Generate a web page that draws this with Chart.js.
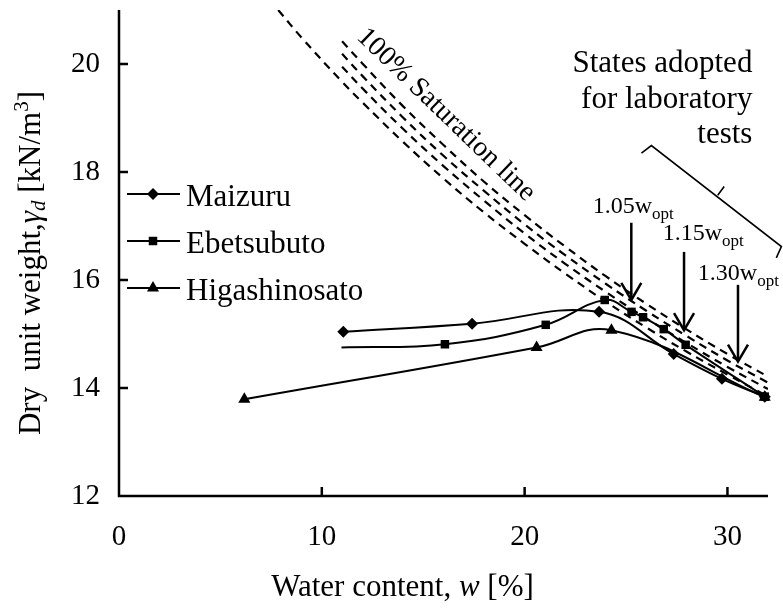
<!DOCTYPE html>
<html><head><meta charset="utf-8">
<script src="https://cdn.jsdelivr.net/npm/chart.js@4.4.1/dist/chart.umd.min.js"></script>
<style>html,body{margin:0;padding:0;background:#fff}#wrap{width:783px;height:608px}</style>
</head><body><div id="wrap"><canvas id="c" width="783" height="608"></canvas></div>
<script>
// ---- data ----
const xTickValues = [0, 10, 20, 30];
const yTickValues = [12, 14, 16, 18, 20];
const seriesNames = ['Maizuru', 'Ebetsubuto', 'Higashinosato'];

const maizuruW = [11.06, 17.41, 23.67, 27.35, 29.73, 31.84];
const maizuruG = [15.04, 15.19, 15.41, 14.63, 14.17, 13.84];

const ebetsuW = [10.97, 16.07, 21.04, 23.95, 25.27, 25.84, 26.86, 27.94, 31.84];
const ebetsuG = [14.75, 14.81, 15.17, 15.63, 15.41, 15.31, 15.09, 14.80, 13.84];

const higashiW = [6.18, 20.59, 24.28, 31.84];
const higashiG = [13.79, 14.75, 15.07, 13.83];

const satW_A = [7.85, 9, 11, 12, 14, 16, 18, 20, 22, 24, 26, 28, 30, 32];
const satA = [21.00, 20.49, 19.67, 19.29, 18.56, 17.88, 17.25, 16.67, 16.12, 15.60, 15.12, 14.67, 14.25, 13.84];
const satW = [11, 12, 14, 16, 18, 20, 22, 24, 26, 28, 30, 32];
const satB = [19.95, 19.55, 18.80, 18.11, 17.47, 16.86, 16.30, 15.78, 15.29, 14.83, 14.39, 13.98];
const satC = [20.19, 19.78, 19.01, 18.30, 17.65, 17.03, 16.46, 15.93, 15.43, 14.96, 14.51, 14.10];
const satD = [20.42, 20.01, 19.22, 18.50, 17.82, 17.20, 16.62, 16.07, 15.56, 15.08, 14.63, 14.21];

const ratioLabels = ['1.05', '1.15', '1.30'];

// ---- build ----
const FF = '"Liberation Serif", "Times New Roman", serif';
const zip = (xs, ys) => xs.map((x, i) => ({x, y: ys[i]}));

function dataSet(label, xs, ys, style, radius, radii) {
  return {
    label, data: zip(xs, ys), borderColor: '#000', backgroundColor: '#000',
    borderWidth: 2, pointStyle: style, pointRadius: radii || radius, pointHoverRadius: radius,
    pointBorderWidth: 0, tension: 0.4, clip: 10
  };
}
function satSet(xs, ys) {
  return {
    label: 'sat', data: zip(xs, ys), borderColor: '#000', borderWidth: 2.2,
    borderDash: [8, 6], pointRadius: 0, tension: 0.4, fill: false
  };
}

const ds = [
  dataSet(seriesNames[2], higashiW, higashiG, 'triangle', 7),
  dataSet(seriesNames[1], ebetsuW, ebetsuG, 'rect', 6, ebetsuW.map((v, i) => i === 0 ? 0 : 6)),
  dataSet(seriesNames[0], maizuruW, maizuruG, 'rectRot', 6),
  satSet(satW_A, satA), satSet(satW, satB), satSet(satW, satC), satSet(satW, satD)
];

function drawRich(ctx, parts, x, y, align) {
  let total = 0;
  parts.forEach(p => { ctx.font = `${p.st || ''} ${p.s}px ${FF}`; p.w = ctx.measureText(p.t).width; total += p.w; });
  let cx = align === 'center' ? x - total / 2 : align === 'right' ? x - total : x;
  ctx.textAlign = 'left'; ctx.textBaseline = 'alphabetic'; ctx.fillStyle = '#000';
  parts.forEach(p => { ctx.font = `${p.st || ''} ${p.s}px ${FF}`; ctx.fillText(p.t, cx, y + (p.dy || 0)); cx += p.w; });
}

const decor = {
  id: 'decor',
  afterDraw(chart) {
    const ctx = chart.ctx, xs = chart.scales.x, ys = chart.scales.y, a = chart.chartArea;
    const X = v => xs.getPixelForValue(v), Y = v => ys.getPixelForValue(v);
    ctx.save();
    ctx.strokeStyle = '#000'; ctx.fillStyle = '#000'; ctx.lineCap = 'butt';
    // axes
    ctx.lineWidth = 2.5;
    ctx.beginPath();
    ctx.moveTo(a.left, a.top); ctx.lineTo(a.left, a.bottom); ctx.lineTo(a.right, a.bottom);
    ctx.stroke();
    ctx.beginPath();
    xTickValues.forEach(v => { if (v > xs.min) { ctx.moveTo(X(v), a.bottom); ctx.lineTo(X(v), a.bottom - 9); } });
    yTickValues.forEach(v => { if (v > ys.min) { ctx.moveTo(a.left, Y(v)); ctx.lineTo(a.left + 9, Y(v)); } });
    ctx.stroke();

    // legend
    const styles = ['rectRot', 'rect', 'triangle'], radii = [6, 6, 7];
    seriesNames.forEach((n, i) => {
      const ly = a.top + 184 + 47 * i;
      ctx.lineWidth = 2;
      ctx.beginPath(); ctx.moveTo(a.left + 8, ly); ctx.lineTo(a.left + 61, ly); ctx.stroke();
      Chart.helpers.drawPoint(ctx, {pointStyle: styles[i], radius: radii[i], rotation: 0, borderWidth: 0}, a.left + 34, ly);
      drawRich(ctx, [{t: n, s: 31}], a.left + 67, ly + 12, 'left');
    });

    // saturation label
    ctx.save();
    ctx.translate(X(16.12), Y(19.06));
    ctx.rotate(44 * Math.PI / 180);
    ctx.font = `28px ${FF}`; ctx.textAlign = 'center'; ctx.textBaseline = 'middle';
    ctx.fillText('100% Saturation line', 0, 0);
    ctx.restore();

    // arrows
    const arrows = [[25.26, 17.06, 15.63], [27.86, 16.52, 15.07], [30.52, 15.91, 14.49]];
    ctx.lineWidth = 2.5;
    arrows.forEach(([w, g1, g2]) => {
      const x = X(w), y1 = Y(g1), y2 = Y(g2);
      ctx.beginPath(); ctx.moveTo(x, y1); ctx.lineTo(x, y2 - 1); ctx.stroke();
      ctx.beginPath(); ctx.moveTo(x - 10, y2 - 17); ctx.lineTo(x, y2); ctx.lineTo(x + 10, y2 - 17); ctx.stroke();
    });
    const lbl = [[23.36, 17.24], [26.81, 16.74], [28.54, 16.0]];
    lbl.forEach(([w, g], i) => {
      drawRich(ctx, [{t: ratioLabels[i] + 'w', s: 24}, {t: 'opt', s: 17, dy: 6}], X(w), Y(g), 'left');
    });

    // bracket
    ctx.lineWidth = 1.6;
    ctx.beginPath();
    ctx.moveTo(X(25.76), Y(18.35)); ctx.lineTo(X(26.25), Y(18.49));
    ctx.lineTo(X(32.66), Y(16.62)); ctx.lineTo(X(32.41), Y(16.41));
    ctx.moveTo(X(29.52), Y(17.57)); ctx.lineTo(X(29.84), Y(17.73));
    ctx.stroke();
    drawRich(ctx, [{t: 'States adopted', s: 31}], X(31.23), Y(19.86), 'right');
    drawRich(ctx, [{t: 'for laboratory', s: 31}], X(31.23), Y(19.19), 'right');
    drawRich(ctx, [{t: 'tests', s: 31}], X(31.23), Y(18.54), 'right');

    // axis titles
    drawRich(ctx, [{t: 'Water content, ', s: 31}, {t: 'w', s: 31, st: 'italic'}, {t: ' [%]', s: 31}], 402.5, 596, 'center');
    ctx.save();
    ctx.translate(40, 263); ctx.rotate(-Math.PI / 2);
    drawRich(ctx, [{t: 'Dry  unit weight,', s: 31}, {t: 'γ', s: 31, st: 'italic'}, {t: 'd', s: 21, st: 'italic', dy: 5},
      {t: ' [kN/m', s: 31}, {t: '3', s: 21, dy: -12}, {t: ']', s: 31}], 0, 0, 'center');
    ctx.restore();
    ctx.restore();
  }
};

const noPad = s => { s.paddingTop = 0; s.paddingBottom = 0; s.paddingLeft = 0; s.paddingRight = 0; };

new Chart(document.getElementById('c'), {
  type: 'line',
  data: {datasets: ds},
  options: {
    responsive: false, animation: false, devicePixelRatio: 1,
    layout: {padding: {top: 10, right: 15, left: 0, bottom: 0}},
    plugins: {legend: {display: false}, tooltip: {enabled: false}},
    scales: {
      x: {
        type: 'linear', min: 0, max: 32,
        afterBuildTicks: s => { s.ticks = xTickValues.map(v => ({value: v})); },
        afterFit: s => { s.height = 112; noPad(s); },
        ticks: {font: {family: FF, size: 29}, color: '#000', padding: 24},
        grid: {display: false, drawTicks: false}, border: {display: false}
      },
      y: {
        type: 'linear', min: 12, max: 21,
        afterBuildTicks: s => { s.ticks = yTickValues.map(v => ({value: v})); },
        afterFit: s => { s.width = 119; noPad(s); },
        ticks: {font: {family: FF, size: 29}, color: '#000', padding: 19},
        grid: {display: false, drawTicks: false}, border: {display: false}
      }
    }
  },
  plugins: [decor]
});
</script></body></html>
